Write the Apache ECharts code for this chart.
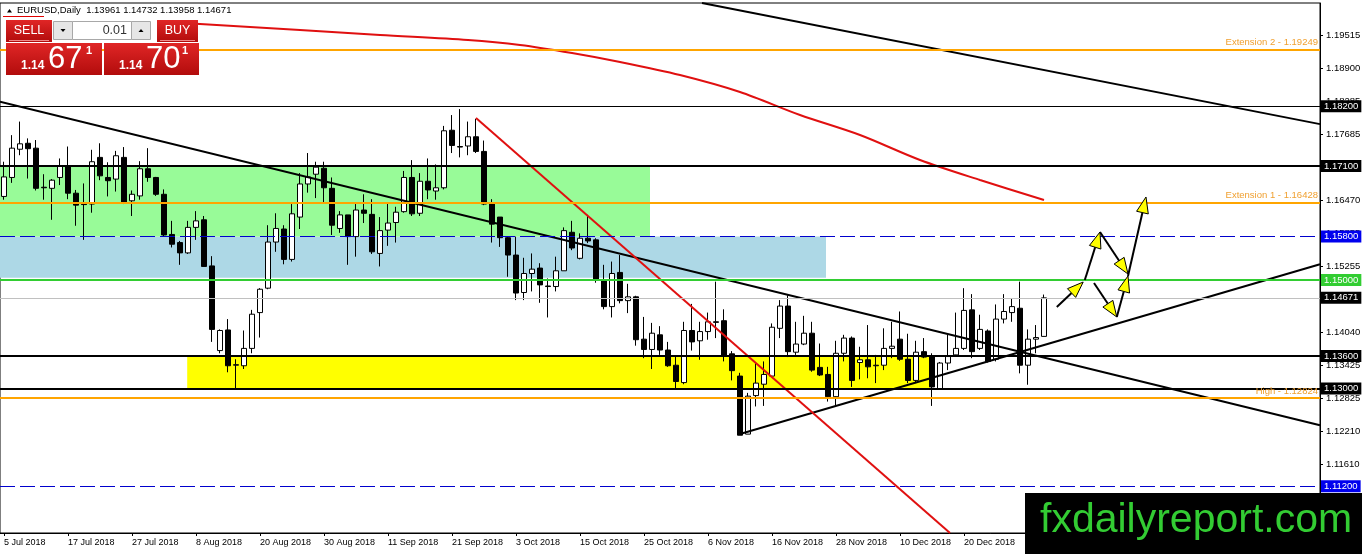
<!DOCTYPE html>
<html>
<head>
<meta charset="utf-8">
<script src="https://cdn.jsdelivr.net/npm/echarts@6/dist/echarts.min.js"></script>
<style>
html, body { margin: 0; padding: 0; background: #fff; }
#chart { width: 1362px; height: 554px; }
</style>
</head>
<body>
<div id="chart"></div>
<script>
// EURUSD daily, 5 Jul 2018 - 7 Jan 2019
var firstDay = Date.UTC(2018, 6, 5);
var closedDays = ['2018-12-25', '2019-01-01'];
var slotCount = 165;          // bars + empty chart shift on the right

// [open, close, low, high]
var ohlc = [
  [1.1654, 1.1690, 1.1648, 1.1718], [1.1689, 1.1743, 1.1679, 1.1767], [1.1741, 1.1751, 1.1730, 1.1792],
  [1.1752, 1.1742, 1.1687, 1.1761], [1.1743, 1.1669, 1.1665, 1.1758], [1.1671, 1.1670, 1.1648, 1.1695],
  [1.1669, 1.1684, 1.1611, 1.1686], [1.1689, 1.1711, 1.1675, 1.1724], [1.1711, 1.1660, 1.1649, 1.1746],
  [1.1660, 1.1638, 1.1600, 1.1666], [1.1640, 1.1639, 1.1574, 1.1678], [1.1640, 1.1718, 1.1624, 1.1740],
  [1.1726, 1.1692, 1.1684, 1.1752], [1.1689, 1.1683, 1.1654, 1.1717], [1.1686, 1.1729, 1.1663, 1.1738],
  [1.1726, 1.1641, 1.1640, 1.1745], [1.1646, 1.1658, 1.1618, 1.1665], [1.1655, 1.1705, 1.1648, 1.1719],
  [1.1705, 1.1689, 1.1681, 1.1743], [1.1689, 1.1658, 1.1655, 1.1690], [1.1658, 1.1583, 1.1580, 1.1667],
  [1.1584, 1.1566, 1.1560, 1.1609], [1.1569, 1.1550, 1.1528, 1.1572], [1.1550, 1.1597, 1.1548, 1.1609],
  [1.1597, 1.1609, 1.1574, 1.1627], [1.1611, 1.1525, 1.1525, 1.1618], [1.1526, 1.1409, 1.1386, 1.1544],
  [1.1370, 1.1407, 1.1365, 1.1409], [1.1408, 1.1342, 1.1330, 1.1428], [1.1343, 1.1344, 1.1300, 1.1354],
  [1.1342, 1.1374, 1.1336, 1.1407], [1.1374, 1.1437, 1.1365, 1.1445], [1.1440, 1.1483, 1.1394, 1.1485],
  [1.1485, 1.1570, 1.1483, 1.1601], [1.1570, 1.1595, 1.1552, 1.1623], [1.1594, 1.1538, 1.1529, 1.1601],
  [1.1538, 1.1622, 1.1534, 1.1640], [1.1616, 1.1677, 1.1594, 1.1697], [1.1677, 1.1690, 1.1661, 1.1734],
  [1.1695, 1.1708, 1.1651, 1.1718], [1.1706, 1.1670, 1.1641, 1.1718], [1.1669, 1.1601, 1.1583, 1.1689],
  [1.1595, 1.1620, 1.1587, 1.1627], [1.1620, 1.1580, 1.1528, 1.1620], [1.1580, 1.1629, 1.1543, 1.1640],
  [1.1629, 1.1623, 1.1605, 1.1658], [1.1621, 1.1552, 1.1548, 1.1649], [1.1549, 1.1591, 1.1525, 1.1616],
  [1.1592, 1.1605, 1.1563, 1.1643], [1.1606, 1.1625, 1.1569, 1.1635], [1.1626, 1.1689, 1.1624, 1.1701],
  [1.1689, 1.1622, 1.1618, 1.1721], [1.1623, 1.1682, 1.1618, 1.1697], [1.1682, 1.1666, 1.1649, 1.1724],
  [1.1664, 1.1670, 1.1648, 1.1713], [1.1670, 1.1775, 1.1667, 1.1784], [1.1776, 1.1748, 1.1734, 1.1804],
  [1.1746, 1.1745, 1.1726, 1.1815], [1.1747, 1.1764, 1.1730, 1.1792], [1.1764, 1.1737, 1.1734, 1.1797],
  [1.1737, 1.1640, 1.1638, 1.1757], [1.1640, 1.1603, 1.1569, 1.1649], [1.1616, 1.1578, 1.1561, 1.1616],
  [1.1578, 1.1546, 1.1506, 1.1580], [1.1546, 1.1476, 1.1463, 1.1580], [1.1477, 1.1512, 1.1463, 1.1541],
  [1.1512, 1.1520, 1.1479, 1.1549], [1.1522, 1.1491, 1.1458, 1.1531], [1.1489, 1.1488, 1.1431, 1.1503],
  [1.1488, 1.1517, 1.1479, 1.1543], [1.1517, 1.1591, 1.1517, 1.1597], [1.1588, 1.1559, 1.1555, 1.1609],
  [1.1540, 1.1577, 1.1538, 1.1586], [1.1577, 1.1572, 1.1568, 1.1620], [1.1574, 1.1501, 1.1495, 1.1577],
  [1.1500, 1.1451, 1.1446, 1.1528], [1.1451, 1.1512, 1.1431, 1.1534], [1.1514, 1.1462, 1.1457, 1.1546],
  [1.1462, 1.1469, 1.1439, 1.1493], [1.1469, 1.1390, 1.1379, 1.1471], [1.1391, 1.1372, 1.1356, 1.1432],
  [1.1372, 1.1402, 1.1336, 1.1421], [1.1399, 1.1371, 1.1362, 1.1415], [1.1371, 1.1342, 1.1340, 1.1386],
  [1.1343, 1.1313, 1.1300, 1.1360], [1.1311, 1.1407, 1.1308, 1.1423], [1.1407, 1.1386, 1.1370, 1.1456],
  [1.1388, 1.1405, 1.1353, 1.1423], [1.1405, 1.1423, 1.1390, 1.1440], [1.1423, 1.1422, 1.1393, 1.1497],
  [1.1425, 1.1360, 1.1350, 1.1446], [1.1364, 1.1333, 1.1315, 1.1369], [1.1323, 1.1214, 1.1214, 1.1329],
  [1.1216, 1.1286, 1.1216, 1.1292], [1.1287, 1.1310, 1.1267, 1.1347], [1.1308, 1.1326, 1.1268, 1.1350],
  [1.1323, 1.1413, 1.1322, 1.1420], [1.1411, 1.1452, 1.1393, 1.1463], [1.1452, 1.1368, 1.1358, 1.1472],
  [1.1367, 1.1382, 1.1362, 1.1423], [1.1382, 1.1402, 1.1380, 1.1434], [1.1402, 1.1334, 1.1331, 1.1423],
  [1.1339, 1.1325, 1.1323, 1.1383], [1.1326, 1.1285, 1.1276, 1.1340], [1.1285, 1.1365, 1.1268, 1.1388],
  [1.1365, 1.1393, 1.1350, 1.1399], [1.1393, 1.1315, 1.1303, 1.1396], [1.1348, 1.1353, 1.1317, 1.1377],
  [1.1353, 1.1340, 1.1319, 1.1417], [1.1342, 1.1343, 1.1310, 1.1362], [1.1343, 1.1374, 1.1334, 1.1411],
  [1.1374, 1.1378, 1.1356, 1.1423], [1.1391, 1.1354, 1.1351, 1.1442], [1.1354, 1.1315, 1.1310, 1.1401],
  [1.1315, 1.1367, 1.1310, 1.1388], [1.1368, 1.1358, 1.1356, 1.1393], [1.1360, 1.1303, 1.1268, 1.1365],
  [1.1300, 1.1347, 1.1300, 1.1349], [1.1347, 1.1359, 1.1334, 1.1399], [1.1362, 1.1374, 1.1359, 1.1440],
  [1.1374, 1.1444, 1.1371, 1.1485], [1.1445, 1.1368, 1.1356, 1.1474], [1.1374, 1.1409, 1.1371, 1.1436],
  [1.1406, 1.1350, 1.1348, 1.1409], [1.1354, 1.1428, 1.1350, 1.1455], [1.1428, 1.1442, 1.1420, 1.1474],
  [1.1440, 1.1451, 1.1423, 1.1465], [1.1448, 1.1343, 1.1328, 1.1497], [1.1343, 1.1391, 1.1307, 1.1409],
  [1.1391, 1.1394, 1.1365, 1.1417], [1.13961, 1.14671, 1.13958, 1.14732]
];

// right price scale
var priceTicks = [1.19515, 1.18900, 1.18285, 1.17685, 1.17070, 1.16470, 1.15855, 1.15255,
                  1.14640, 1.14040, 1.13425, 1.12825, 1.12210, 1.11610, 1.10995];
var viewLow = 1.10338, viewHigh = 1.20105;

// horizontal levels
var extLevels = [1.19249, 1.16428, 1.12824];
var extNames = ['Extension 2', 'Extension 1', 'High'];
var blackLevels = [1.18200, 1.17100, 1.13600, 1.13000];
var blueLevels = [1.15800, 1.11200];
var greenLevel = 1.15000;
var bid = 1.14671, ask = 1.14701;

// zones: [bar, price] corners
var greenZone = [[-0.5, 1.17100], [80.75, 1.15800]];
var blueZone = [[-0.5, 1.15800], [102.75, 1.15040]];
var yellowZone = [[22.9, 1.13600], [115.75, 1.13000]];

// drawn lines: [bar, price]
var trendDown = [[-0.5, 1.18286], [164.5, 1.12323]];
var trendTop = [[87.25, 1.20105], [164.5, 1.17873]];
var trendUp = [[92, 1.12163], [164.5, 1.15290]];
var trendRed = [[59, 1.17985], [118.25, 1.10338]];
var maLine = [[22, 1.19740], [24.5, 1.19718], [37, 1.19607], [47, 1.19515], [58, 1.19423],
              [64.5, 1.19331], [71, 1.19183], [77, 1.19018], [84.5, 1.18778], [92, 1.18465],
              [99.5, 1.18041], [107, 1.17672], [114.5, 1.17212], [122, 1.16843], [130, 1.16475]];

// projection arrows: [fromBar, fromPrice, toBar, toPrice]
var arrows = [
  [131.6, 1.14503, 134.9, 1.14963],
  [135.1, 1.15000, 137.0, 1.15885],
  [137.0, 1.15885, 140.5, 1.15111],
  [136.25, 1.14945, 139.1, 1.14319],
  [139.1, 1.14319, 140.5, 1.15074],
  [140.5, 1.15074, 142.75, 1.16530]
];

var fontFamily = '"Liberation Sans", Arial, sans-serif';
var months = ['Jan', 'Feb', 'Mar', 'Apr', 'May', 'Jun', 'Jul', 'Aug', 'Sep', 'Oct', 'Nov', 'Dec'];

function buildDates() {
  var out = [];
  var d = new Date(firstDay);
  while (out.length < slotCount) {
    var wd = d.getUTCDay();
    var iso = d.toISOString().slice(0, 10);
    if (wd !== 0 && wd !== 6 && closedDays.indexOf(iso) < 0) {
      out.push(d.getUTCDate() + ' ' + months[d.getUTCMonth()] + ' ' + d.getUTCFullYear());
    }
    d.setUTCDate(d.getUTCDate() + 1);
  }
  return out;
}
var dates = buildDates();

function showDate(i) { return i % 8 === 0 && i < ohlc.length; }

function boxLine(price, color, width, type, boxColor) {
  return {
    yAxis: price,
    lineStyle: { color: color, width: width, type: type || 'solid' },
    label: {
      show: true, position: 'end', distance: 1,
      formatter: price.toFixed(5),
      color: '#fff', backgroundColor: boxColor || color,
      padding: [1, 3, 1, 3], fontSize: 9.5, lineHeight: 10, fontFamily: fontFamily
    }
  };
}

var levelLines = [];
extLevels.forEach(function (p, i) {
  levelLines.push({
    yAxis: p,
    lineStyle: { color: '#ffa500', width: 2, type: 'solid' },
    label: {
      show: true, position: 'insideEndTop', distance: 2,
      formatter: extNames[i] + ' - ' + p.toFixed(5),
      color: '#f0a030', fontSize: 9.5, fontFamily: fontFamily
    }
  });
});
blackLevels.forEach(function (p, i) {
  levelLines.push(boxLine(p, '#000', i === 0 ? 1 : 2));
});
blueLevels.forEach(function (p) {
  levelLines.push(boxLine(p, '#0000cd', 1, [15, 5], '#0000ee'));
});
levelLines.push(boxLine(greenLevel, '#32cd32', 2));
levelLines.push(boxLine(bid, '#c0c0c0', 1, 'solid', '#000'));

function zone(z, color) {
  return [{ coord: z[0], itemStyle: { color: color } }, { coord: z[1] }];
}

function trend(name, pts, color, width, smooth) {
  return {
    name: name, type: 'line', xAxisIndex: 1, yAxisIndex: 0,
    data: pts, showSymbol: false, symbol: 'none', smooth: smooth || false,
    lineStyle: { color: color, width: width }, z: 4, silent: true, clip: true
  };
}

function renderArrow(params, api) {
  var a = api.coord([api.value(0), api.value(1)]);
  var b = api.coord([api.value(2), api.value(3)]);
  var dx = b[0] - a[0], dy = b[1] - a[1];
  var len = Math.sqrt(dx * dx + dy * dy);
  var ux = dx / len, uy = dy / len;
  var L = 16, W = 6;
  var bx = b[0] - ux * L, by = b[1] - uy * L;
  return {
    type: 'group',
    children: [
      { type: 'line', shape: { x1: a[0], y1: a[1], x2: bx, y2: by },
        style: { stroke: '#000', lineWidth: 2 } },
      { type: 'polygon',
        shape: { points: [[b[0], b[1]], [bx - uy * W, by + ux * W], [bx + uy * W, by - ux * W]] },
        style: { fill: '#ffff00', stroke: '#000', lineWidth: 1 } }
    ]
  };
}

// ---- one click trading panel + header ----
var redFill = new echarts.graphic.LinearGradient(0, 0, 0, 1, [
  { offset: 0, color: '#e02626' }, { offset: 1, color: '#b20c0c' }
]);
function txt(s, x, y, size, color, align, weight) {
  return {
    type: 'text', z: 100,
    style: {
      text: s, x: x, y: y, fill: color,
      font: (weight || 'normal') + ' ' + size + 'px ' + fontFamily,
      textAlign: align || 'left', align: align || 'left',
      textVerticalAlign: 'middle', verticalAlign: 'middle'
    }
  };
}
function rect(x, y, w, h, fill, stroke) {
  return { type: 'rect', z: 100, shape: { x: x, y: y, width: w, height: h },
           style: { fill: fill, stroke: stroke || null, lineWidth: 1 } };
}
function tri(points) {
  return { type: 'polygon', z: 101, shape: { points: points }, style: { fill: '#000' } };
}

var last = ohlc[ohlc.length - 1];
var header = 'EURUSD,Daily  ' + [last[0], last[3], last[2], last[1]].map(function (v) { return v.toFixed(5); }).join(' ');
var bidStr = bid.toFixed(5), askStr = ask.toFixed(5);

var graphics = [
  tri([[7, 12.5], [9.5, 9], [12, 12.5]]),
  txt(header, 17, 10.5, 9.5, '#000'),
  { type: 'line', z: 100, shape: { x1: 3, y1: 16.5, x2: 44, y2: 16.5 }, style: { stroke: '#e00000', lineWidth: 1 } },

  rect(6, 20, 46, 22, redFill),
  { type: 'line', z: 101, shape: { x1: 9, y1: 40.5, x2: 49, y2: 40.5 }, style: { stroke: '#f08a8a', lineWidth: 1 } },
  txt('SELL', 29, 31, 12.5, '#fff', 'center'),
  rect(53.5, 21.5, 19, 18, '#e6e6e6', '#a8a8a8'),
  tri([[60.5, 29], [65.5, 29], [63, 32]]),
  rect(72.5, 21.5, 59, 18, '#fff', '#a8a8a8'),
  txt('0.01', 127, 30.5, 12.5, '#333', 'right'),
  rect(131.5, 21.5, 19, 18, '#e6e6e6', '#a8a8a8'),
  tri([[138.5, 32], [143.5, 32], [141, 29]]),
  rect(157, 20, 41, 22, redFill),
  { type: 'line', z: 101, shape: { x1: 160, y1: 40.5, x2: 195, y2: 40.5 }, style: { stroke: '#f08a8a', lineWidth: 1 } },
  txt('BUY', 177.5, 31, 12.5, '#fff', 'center'),

  rect(6, 43, 96, 32, redFill),
  txt(bidStr.slice(0, 4), 21, 66, 12, '#fff', 'left', 'bold'),
  txt(bidStr.slice(4, 6), 48, 59, 31, '#fff'),
  txt(bidStr.slice(6), 86, 51, 11, '#fff', 'left', 'bold'),
  rect(104, 43, 95, 32, redFill),
  txt(askStr.slice(0, 4), 119, 66, 12, '#fff', 'left', 'bold'),
  txt(askStr.slice(4, 6), 146, 59, 31, '#fff'),
  txt(askStr.slice(6), 182, 51, 11, '#fff', 'left', 'bold'),

  rect(1025, 493, 337, 61, '#000'),
  txt('fxdailyreport.com', 1040, 521, 41, '#33cc33')
];

var chart = echarts.init(document.getElementById('chart'), null, { renderer: 'canvas' });

chart.setOption({
  animation: false,
  backgroundColor: '#fff',
  textStyle: { fontFamily: fontFamily },
  grid: {
    left: 0, right: 42, top: 3, bottom: 21,
    show: true, borderColor: '#000', borderWidth: 1,
    containLabel: false, outerBoundsMode: 'none'
  },
  xAxis: [
    {
      type: 'category', data: dates, boundaryGap: true,
      axisLine: { show: true, onZero: false, lineStyle: { color: '#000', width: 1 } },
      axisTick: { show: true, interval: showDate, alignWithLabel: true, length: 3, lineStyle: { color: '#000' } },
      axisLabel: { interval: showDate, align: 'left', margin: 5, color: '#000', fontSize: 9, fontFamily: fontFamily },
      splitLine: { show: false }
    },
    {
      type: 'value', min: -0.5, max: slotCount - 0.5, show: false,
      axisLine: { onZero: false },
      splitLine: { show: false }
    }
  ],
  yAxis: {
    type: 'value', position: 'right', min: viewLow, max: viewHigh, scale: true,
    splitLine: { show: false },
    axisLine: { show: true, onZero: false, lineStyle: { color: '#000', width: 1 } },
    axisTick: { show: true, length: 3, customValues: priceTicks, lineStyle: { color: '#000' } },
    axisLabel: {
      customValues: priceTicks, margin: 6, color: '#000', fontSize: 9.5, fontFamily: fontFamily,
      formatter: function (v) { return v.toFixed(5); }
    }
  },
  series: [
    {
      name: 'zones', type: 'line', xAxisIndex: 1, data: [], z: 1, silent: true,
      markArea: {
        silent: true,
        data: [zone(blueZone, '#add8e6'), zone(greenZone, '#98fb98'), zone(yellowZone, '#ffff00')]
      }
    },
    {
      name: 'EURUSD', type: 'candlestick', xAxisIndex: 0, yAxisIndex: 0,
      data: ohlc, barWidth: 5, z: 2, silent: true,
      itemStyle: { color: '#ffffff', color0: '#000000', borderColor: '#000000', borderColor0: '#000000', borderWidth: 1 }
    },
    {
      name: 'levels', type: 'line', xAxisIndex: 1, data: [], z: 3, silent: true,
      markLine: { silent: true, symbol: ['none', 'none'], precision: 5, data: levelLines }
    },
    trend('ma', maLine, '#e01010', 2, 0.3),
    trend('down', trendDown, '#000', 2),
    trend('top', trendTop, '#000', 2),
    trend('up', trendUp, '#000', 2),
    trend('red', trendRed, '#e01010', 2),
    {
      name: 'arrows', type: 'custom', xAxisIndex: 1, yAxisIndex: 0,
      data: arrows, renderItem: renderArrow, z: 5, silent: true, clip: false,
      encode: { x: [0, 2], y: [1, 3] }
    }
  ],
  graphic: graphics
});

window.addEventListener('resize', function () { chart.resize(); });
</script>
</body>
</html>
